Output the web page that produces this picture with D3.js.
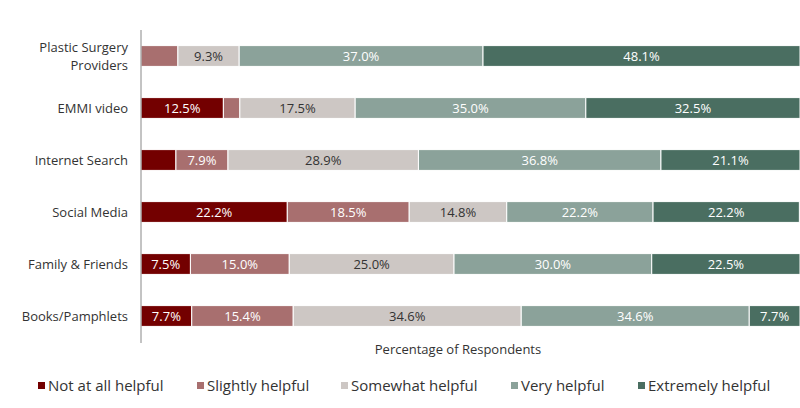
<!DOCTYPE html>
<html>
<head>
<meta charset="utf-8">
<script src="https://cdn.jsdelivr.net/npm/d3@7"></script>
<style>
	body { margin: 0; background: #fff; }
	text { font-family: "Open Sans", "Lato", sans-serif; }
</style>
</head>
<body>
<div id="container"></div>
<script>
// categories, top to bottom
var categories = ["Plastic Surgery Providers", "EMMI video", "Internet Search", "Social Media", "Family & Friends", "Books/Pamphlets"];
var levels = ["Not at all helpful", "Slightly helpful", "Somewhat helpful", "Very helpful", "Extremely helpful"];

// percent per level, same order as categories
var notAtAll  = [0.0, 12.5, 5.3, 22.2, 7.5, 7.7];
var slightly  = [5.6, 2.5, 7.9, 18.5, 15.0, 15.4];
var somewhat  = [9.3, 17.5, 28.9, 14.8, 25.0, 34.6];
var very      = [37.0, 35.0, 36.8, 22.2, 30.0, 34.6];
var extremely = [48.1, 32.5, 21.1, 22.2, 22.5, 7.7];

var colors = ["#730000", "#a86f6f", "#cdc7c4", "#8ba29a", "#4a6e61"];
var textColors = ["#fff", "#fff", "#333", "#fff", "#fff"];

var width = 800, height = 408;
var margin = {top: 30, right: 0, bottom: 66, left: 141};

var series = [notAtAll, slightly, somewhat, very, extremely];
var table = categories.map(function(c, i) {
	var row = {cat: c};
	levels.forEach(function(l, j) { row[l] = series[j][i]; });
	return row;
});

var stack = d3.stack().keys(levels)(table);

var svg = d3.select("#container").append("svg")
	.attr("width", width)
	.attr("height", height);

var x = d3.scaleLinear().domain([0, 100]).range([margin.left, width - margin.right]);
var y = d3.scaleBand().domain(categories).range([margin.top, height - margin.bottom]).paddingInner(0.6).paddingOuter(0.3);

var layers = svg.selectAll("g.layer")
	.data(stack)
	.enter().append("g")
	.attr("class", "layer")
	.attr("fill", function(d, i) { return colors[i]; });

layers.selectAll("rect")
	.data(function(d) { return d; })
	.enter().append("rect")
	.attr("x", function(d) { return x(d[0]); })
	.attr("y", function(d) { return y(d.data.cat); })
	.attr("width", function(d) { return x(d[1]) - x(d[0]); })
	.attr("height", y.bandwidth())
	.attr("stroke", "#fff")
	.attr("stroke-width", 1);

// labels (small slices left unlabeled)
layers.selectAll("text")
	.data(function(d, i) { return d.map(function(v) { v.idx = i; return v; }); })
	.enter().filter(function(d) { return d[1] - d[0] >= 7; })
	.append("text")
	.attr("x", function(d) { return (x(d[0]) + x(d[1])) / 2; })
	.attr("y", function(d) { return y(d.data.cat) + y.bandwidth() / 2; })
	.attr("dy", "0.36em")
	.attr("text-anchor", "middle")
	.attr("font-size", 13)
	.attr("fill", function(d) { return textColors[d.idx]; })
	.text(function(d) { return (d[1] - d[0]).toFixed(1) + "%"; });

// category axis
var yAxis = svg.append("g")
	.attr("transform", "translate(" + margin.left + ",0)")
	.call(d3.axisLeft(y).tickSize(0).tickPadding(14).tickFormat(function() { return ""; }));
yAxis.select(".domain").attr("stroke", "#888").attr("d", "M0," + margin.top + "V" + (height - margin.bottom + 1));

yAxis.selectAll(".tick").each(function(d) {
	var t = d3.select(this).append("text")
		.attr("x", -13)
		.attr("text-anchor", "end")
		.attr("fill", "#333")
		.attr("font-size", 13);
	if (d == "Plastic Surgery Providers") {
		t.append("tspan").attr("x", -13).attr("dy", "-0.3em").text("Plastic Surgery");
		t.append("tspan").attr("x", -13).attr("dy", "1.4em").text("Providers");
	} else {
		t.attr("dy", "0.36em").text(d);
	}
});

svg.append("text")
	.attr("x", 458)
	.attr("y", 354)
	.attr("text-anchor", "middle")
	.attr("font-size", 13)
	.attr("fill", "#333")
	.text("Percentage of Respondents");

// legend
var legendX = [38, 197, 341, 511, 638];
var legend = svg.selectAll("g.legend")
	.data(levels)
	.enter().append("g")
	.attr("class", "legend")
	.attr("transform", function(d, i) { return "translate(" + legendX[i] + ",386)"; });

legend.append("rect")
	.attr("x", 0)
	.attr("y", -4)
	.attr("width", 7)
	.attr("height", 7)
	.attr("fill", function(d, i) { return colors[i]; });

legend.append("text")
	.attr("x", 10)
	.attr("dy", "0.36em")
	.attr("font-size", 15)
	.attr("fill", "#333")
	.text(function(d) { return d; });
</script>
</body>
</html>
